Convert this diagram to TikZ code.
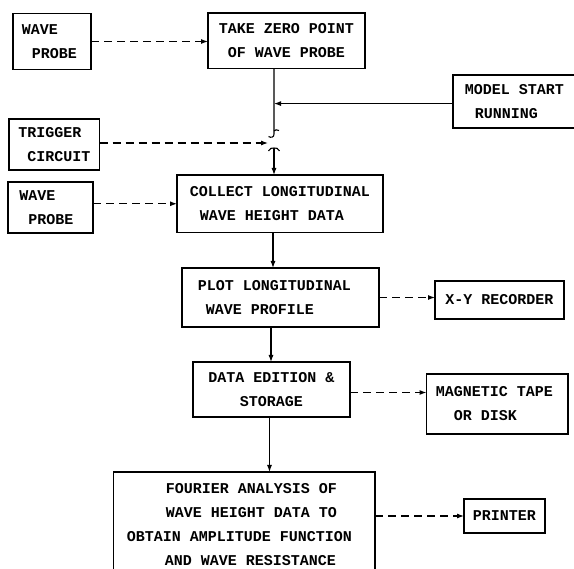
\documentclass[tikz,border=0pt]{standalone}
\usepackage{fontspec}
\newfontfamily\twfont{Liberation Mono}
\usetikzlibrary{arrows.meta}
\newcommand{\padR}[1]{\hspace*{#1}\null}
\begin{document}
\begin{tikzpicture}[x=1pt,y=-1pt,
  box/.style={draw, line width=1.1pt, inner ysep=0pt, outer sep=0pt,
    font=\twfont\bfseries\fontsize{15}{24}\selectfont, anchor=north west},
  wire/.style={line width=1.1pt},
  flow/.style={wire, -{Latex[length=7pt,width=5pt]}},
  probe/.style={flow, dash pattern=on 8pt off 5pt}]
\useasboundingbox (0,0) rectangle (574,569);
\clip (0,0) rectangle (574,569);

% boxes
\node[box, minimum width=78pt, minimum height=56pt, align=left] (wp1) at (13,13.5) {WAVE\\\hspace*{10pt}PROBE\padR{5pt}};
\node[box, minimum width=157pt, minimum height=55.5pt, align=center] (tz) at (208,13) {TAKE ZERO POINT\\OF WAVE PROBE};
\node[box, minimum width=123pt, minimum height=53pt, align=left] (ms) at (453,75) {MODEL START\\\hspace*{10pt}RUNNING};
\node[box, minimum width=90.6pt, minimum height=51pt, align=left] (trig) at (9,119) {TRIGGER\\\hspace*{9pt}CIRCUIT};
\node[box, minimum width=85pt, minimum height=51pt, align=left] (wp2) at (8,182) {WAVE\\\hspace*{9pt}PROBE\padR{8pt}};
\node[box, minimum width=206pt, minimum height=57.5pt, align=left] (col) at (177,175) {COLLECT LONGITUDINAL\\\hspace*{10pt}WAVE HEIGHT DATA};
\node[box, minimum width=197pt, minimum height=59pt, align=left] (plot) at (182,268) {PLOT LONGITUDINAL\padR{12.4pt}\\\hspace*{8pt}WAVE PROFILE};
\node[box, minimum width=129pt, minimum height=38pt] (xy) at (435,281) {X-Y RECORDER};
\node[box, minimum width=157pt, minimum height=55pt, align=center] (data) at (193,362) {DATA EDITION \&\\STORAGE};
\node[box, minimum width=141.5pt, minimum height=60pt, align=left] (mag) at (426.5,374) {MAGNETIC TAPE\padR{5.5pt}\\\hspace*{18pt}OR DISK};
\node[box, minimum width=261.5pt, minimum height=106pt, align=left] (four) at (113.5,472) {\hspace*{39pt}FOURIER ANALYSIS OF\\\hspace*{39pt}WAVE HEIGHT DATA TO\\OBTAIN AMPLITUDE FUNCTION\padR{9.5pt}\\\hspace*{38pt}AND WAVE RESISTANCE};
\node[box, minimum width=81pt, minimum height=34pt] (pr) at (464,499) {PRINTER};

% helper coordinates
\coordinate (j1) at (274,103.6);
\coordinate (sw1) at (274,134);
\coordinate (sw2) at (274,148);
\coordinate (tp) at (268,143);
\coordinate (c1) at (273,0);
\coordinate (c2) at (271,0);
\coordinate (c3) at (269.5,0);

% connectors
\draw[probe] (wp1.east) -- (wp1.east -| tz.west);
\draw[wire] (tz.south -| j1) -- (sw1) .. controls (274,137.5) and (271,138) .. (268.5,136.5);
\draw[wire] (274,131) .. controls (275,129.5) and (277,129.5) .. (279,130.5);
\draw[flow] (ms.west |- j1) -- (j1);
\draw[probe] (trig.east |- tp) -- (tp);
\draw[wire] (268.5,151) .. controls (269.5,148) and (272,148) .. (sw2) .. controls (276,148) and (278.5,148) .. (279.5,151);
\draw[flow] (sw2) -- (col.north -| sw2);
\draw[probe] (col.west -| wp2.east) -- (col.west);
\draw[flow] (col.south -| c1) -- (plot.north -| c1);
\draw[probe] (plot.east) -- (plot.east -| xy.west);
\draw[flow] (plot.south -| c2) -- (data.north -| c2);
\draw[probe] ([yshift=-3pt]data.east) -- ([yshift=-3pt]data.east -| mag.west);
\draw[flow] (data.south -| c3) -- (four.north -| c3);
\draw[probe] (pr.west -| four.east) -- (pr.west);
\end{tikzpicture}
\end{document}
